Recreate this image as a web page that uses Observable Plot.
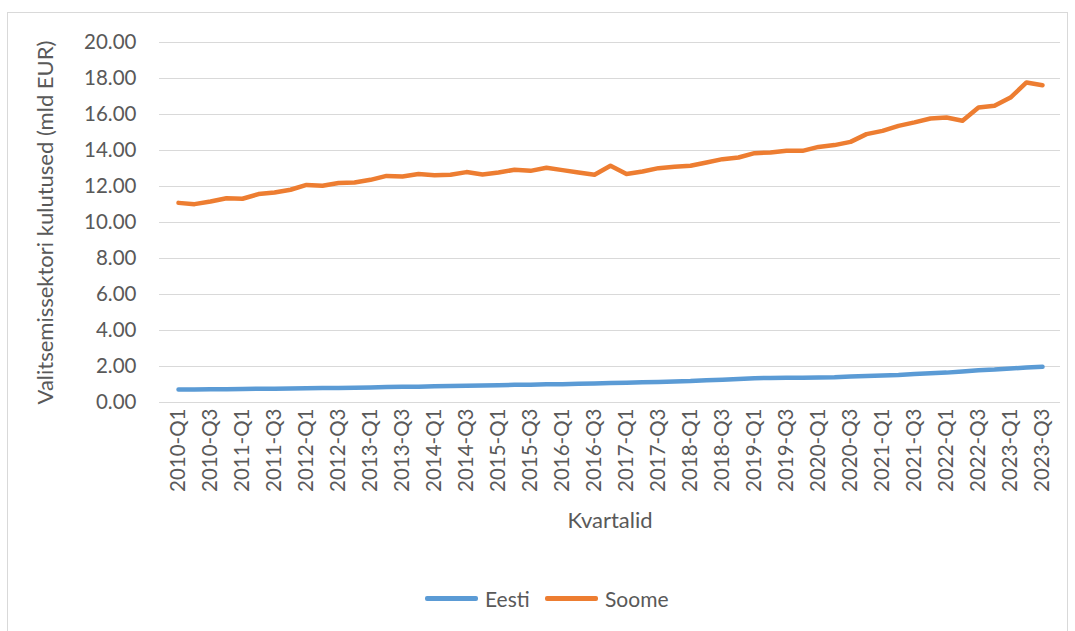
<!DOCTYPE html>
<html>
<head>
<meta charset="utf-8">
<script src="https://cdn.jsdelivr.net/npm/d3@7"></script>
<script src="https://cdn.jsdelivr.net/npm/@observablehq/plot@0.6"></script>
<style>
  body { margin: 0; background: #fff; font-family: Lato, sans-serif; }
  #wrap { position: relative; width: 1075px; height: 631px; overflow: hidden; background: #fff; }
  #frame { position: absolute; left: 7px; top: 12px; width: 1061px; height: 640px; border: 1px solid #d9d9d9; box-sizing: border-box; }
  #chart { position: absolute; left: 0; top: 0; }
  .leg { position: absolute; top: 586px; height: 24px; display: flex; align-items: center; font-size: 21px; color: #595959; }
  .sw { width: 53px; height: 5px; border-radius: 2px; margin-right: 7px; }
</style>
</head>
<body>
<div id="wrap">
  <div id="frame"></div>
  <div id="chart"></div>
  <div class="leg" style="left:425px"><span class="sw" style="background:#5B9BD5"></span>Eesti</div>
  <div class="leg" style="left:545px"><span class="sw" style="background:#ED7D31"></span>Soome</div>
</div>
<script>
const quarters = [
  "2010-Q1","2010-Q2","2010-Q3","2010-Q4","2011-Q1","2011-Q2","2011-Q3","2011-Q4",
  "2012-Q1","2012-Q2","2012-Q3","2012-Q4","2013-Q1","2013-Q2","2013-Q3","2013-Q4",
  "2014-Q1","2014-Q2","2014-Q3","2014-Q4","2015-Q1","2015-Q2","2015-Q3","2015-Q4",
  "2016-Q1","2016-Q2","2016-Q3","2016-Q4","2017-Q1","2017-Q2","2017-Q3","2017-Q4",
  "2018-Q1","2018-Q2","2018-Q3","2018-Q4","2019-Q1","2019-Q2","2019-Q3","2019-Q4",
  "2020-Q1","2020-Q2","2020-Q3","2020-Q4","2021-Q1","2021-Q2","2021-Q3","2021-Q4",
  "2022-Q1","2022-Q2","2022-Q3","2022-Q4","2023-Q1","2023-Q2","2023-Q3"
];
const eesti = [
  0.72,0.72,0.73,0.74,0.75,0.76,0.77,0.78,
  0.79,0.80,0.81,0.82,0.84,0.86,0.87,0.88,
  0.90,0.91,0.93,0.94,0.96,0.98,0.99,1.01,
  1.02,1.04,1.06,1.08,1.10,1.12,1.14,1.17,
  1.19,1.23,1.27,1.31,1.35,1.36,1.37,1.38,
  1.39,1.40,1.44,1.47,1.50,1.53,1.58,1.62,
  1.66,1.72,1.79,1.83,1.89,1.94,1.98
];
const soome = [
  11.09,11.02,11.17,11.35,11.32,11.58,11.67,11.82,
  12.09,12.04,12.19,12.22,12.37,12.59,12.56,12.69,
  12.63,12.65,12.80,12.67,12.78,12.93,12.87,13.04,
  12.91,12.78,12.65,13.15,12.69,12.83,13.02,13.10,
  13.15,13.33,13.52,13.61,13.85,13.89,13.98,13.98,
  14.20,14.30,14.48,14.91,15.09,15.37,15.56,15.78,
  15.83,15.65,16.39,16.48,16.94,17.78,17.63
];
const yTicks = [0,2,4,6,8,10,12,14,16,18,20];
const xTicks = quarters.filter((q, i) => i % 2 === 0);
const yTitle = "Valitsemissektori kulutused (mld EUR)";
const xTitle = "Kvartalid";

const eestiData = quarters.map((q, i) => ({q, v: eesti[i]}));
const soomeData = quarters.map((q, i) => ({q, v: soome[i]}));

const chart = Plot.plot({
  width: 1075,
  height: 560,
  marginLeft: 159,
  marginRight: 15,
  marginTop: 42,
  marginBottom: 158,
  style: {fontFamily: "Lato, sans-serif", fontSize: "20px", color: "#595959", background: "transparent", overflow: "visible"},
  x: {type: "point", domain: quarters, padding: 0.5},
  y: {domain: [0, 20]},
  marks: [
    Plot.gridY(yTicks, {stroke: "#d9d9d9", strokeOpacity: 1, strokeWidth: 1}),
    Plot.axisY(yTicks, {tickSize: 0, tickPadding: 23, tickFormat: d => d.toFixed(2), label: null, fill: "#595959", fontSize: 20.5}),
    Plot.axisX(xTicks, {tickSize: 0, tickPadding: 6, tickRotate: -90, label: null, fill: "#595959", fontSize: 20.5}),
    Plot.line(eestiData, {x: "q", y: "v", stroke: "#5B9BD5", strokeWidth: 4.5, strokeLinejoin: "round", strokeLinecap: "round"}),
    Plot.line(soomeData, {x: "q", y: "v", stroke: "#ED7D31", strokeWidth: 4.5, strokeLinejoin: "round", strokeLinecap: "round"}),
    Plot.text([yTitle], {frameAnchor: "left", textAnchor: "middle", dx: -114, rotate: -90, fill: "#595959", fontSize: 22}),
    Plot.text([xTitle], {frameAnchor: "bottom", textAnchor: "middle", dy: 125, fill: "#595959", fontSize: 22})
  ]
});
document.getElementById("chart").appendChild(chart);
</script>
</body>
</html>
